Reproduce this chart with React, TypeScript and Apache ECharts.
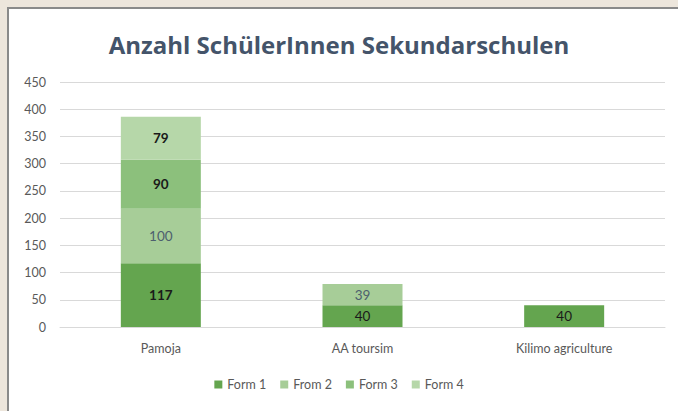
import React, { useEffect, useRef } from "react";
import * as echarts from "echarts";

const categories = ["Pamoja", "AA toursim", "Kilimo agriculture"];
const seriesNames = ["Form 1", "From 2", "Form 3", "Form 4"];
const form1 = [117, 40, 40];
const from2 = [100, 39, null];
const form3 = [90, null, null];
const form4 = [79, null, null];
const colors = ["#64a54f", "#a7cd98", "#8cc07c", "#b6d7a9"];
const labelStyles = [
  { color: "#1a1a1a", fontWeight: "bold" },
  { color: "#4d5f6e", fontWeight: "normal" },
  { color: "#1a1a1a", fontWeight: "bold" },
  { color: "#1a1a1a", fontWeight: "bold" },
];

export default function App() {
  const ref = useRef<HTMLDivElement>(null);
  useEffect(() => {
    document.body.style.margin = "0";
    const chart = echarts.init(ref.current!, null, { renderer: "svg" });
    const data = [form1, from2, form3, form4];
    chart.setOption({
      animation: false,
      backgroundColor: "transparent",
      textStyle: { fontFamily: "Lato" },
      title: {
        text: "Anzahl SchülerInnen Sekundarschulen",
        left: "center",
        top: 27,
        textStyle: { fontSize: 24, fontWeight: "bold", color: "#44546a", fontFamily: "Open Sans" },
      },
      legend: {
        data: seriesNames,
        bottom: 15,
        left: "center",
        itemWidth: 8,
        itemHeight: 8,
        itemGap: 14,
        icon: "rect",
        textStyle: { fontSize: 12.5, color: "#595959", fontFamily: "Lato" },
      },
      grid: { left: 60, right: 13, top: 82, bottom: 84, containLabel: false },
      xAxis: {
        type: "category",
        data: categories,
        axisLine: { show: true, lineStyle: { color: "#d9d9d9" } },
        axisTick: { show: false },
        axisLabel: { color: "#595959", fontSize: 12.5, margin: 15, fontFamily: "Lato" },
      },
      yAxis: {
        type: "value",
        min: 0,
        max: 450,
        interval: 50,
        axisLine: { show: false },
        axisTick: { show: false },
        splitLine: { lineStyle: { color: "#d9d9d9" } },
        axisLabel: { color: "#595959", fontSize: 12.5, margin: 14, fontFamily: "Lato" },
      },
      series: seriesNames.map((name, i) => ({
        name,
        type: "bar",
        stack: "total",
        barWidth: 80,
        data: data[i].map((v, j) =>
          i === 0 && j > 0 && v != null
            ? { value: v, label: { fontWeight: "normal" } }
            : v
        ),
        itemStyle: { color: colors[i] },
        label: {
          show: true,
          position: "inside",
          fontSize: 13.5,
          fontFamily: "Lato",
          ...labelStyles[i],
        },
      })),
    });
    return () => chart.dispose();
  }, []);
  return (
    <div style={{ position: "fixed", left: 0, top: 0, width: 678, height: 411, background: "#ede6dc" }}>
      <div
        style={{
          position: "absolute",
          left: 7,
          top: 7,
          right: 0,
          bottom: 0,
          background: "#ffffff",
          borderLeft: "2px solid #8a8a8a",
          borderTop: "2px solid #8a8a8a",
        }}
      />
      <div ref={ref} style={{ position: "absolute", left: 0, top: 0, width: 678, height: 411 }} />
    </div>
  );
}
